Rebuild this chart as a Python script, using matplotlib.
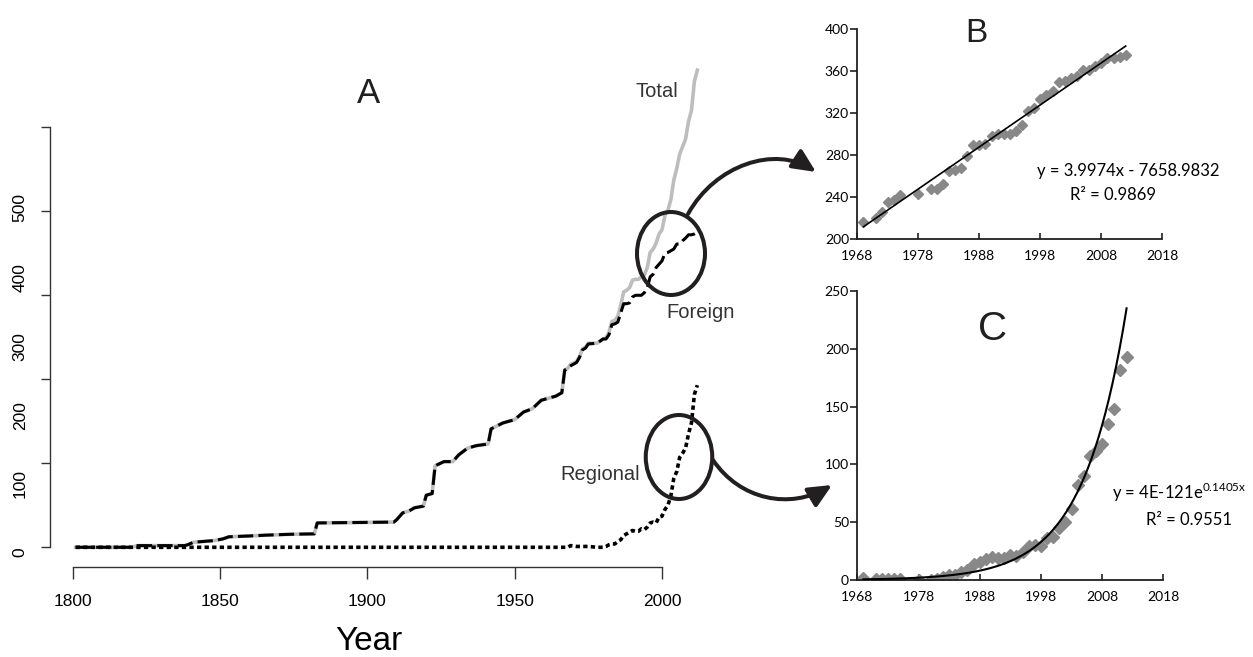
import numpy as np
import matplotlib
matplotlib.use("Agg")
import matplotlib.pyplot as plt
from matplotlib.patches import Ellipse, FancyArrowPatch
from matplotlib.path import Path

plt.rcParams['font.family'] = ['Liberation Sans', 'DejaVu Sans']
plt.rcParams['mathtext.fontset'] = 'custom'
plt.rcParams['mathtext.rm'] = 'Lato'

# ---------------- data ----------------
# Panel A: foreign (cumulative) before 1969, read as knots
a_foreign_early_years = [1801, 1820, 1822, 1838, 1839, 1841, 1848, 1851, 1853, 1860, 1866, 1874,
                         1882, 1883, 1909, 1910, 1912, 1914, 1916, 1919, 1920, 1922, 1923, 1926,
                         1929, 1931, 1934, 1937, 1941, 1942, 1946, 1950, 1953, 1956, 1959, 1964,
                         1966, 1967, 1968]
a_foreign_early_vals = [0, 0, 2, 2, 3, 6, 8, 10, 12.5, 13.5, 14.5, 15.5,
                        16, 29, 30, 33, 41, 43, 47, 49, 62, 64, 97, 102,
                        102, 110, 118, 121, 123, 141, 148, 152, 161, 165, 175, 180,
                        184, 211, 213]
a_regional_early_years = [1801, 1968]
a_regional_early_vals = [0, 0]

# Panels B and C: yearly values since 1969
bc_years = [1969, 1971, 1972, 1973, 1974, 1975, 1978, 1980, 1981, 1982, 1983, 1984, 1985,
            1986, 1987, 1988, 1989, 1990, 1991, 1992, 1993, 1994, 1995, 1996, 1997, 1998,
            1999, 2000, 2001, 2002, 2003, 2004, 2005, 2006, 2007, 2008, 2009, 2010, 2011, 2012]
b_foreign = [216, 220, 226, 235, 237, 242, 243, 248, 248, 253, 265, 266, 268,
             279, 290, 290, 291, 298, 300, 300, 300, 303, 309, 322, 325, 333,
             337, 341, 350, 351, 353, 355, 361, 361, 365, 368, 372, 372, 373, 375]
c_regional = [2, 1, 1, 1, 1, 1, 0, 0, 1, 3, 4, 4, 7,
              9, 14, 16, 18, 20, 19, 19, 22, 21, 24, 29, 30, 29,
              36, 37, 45, 50, 61, 82, 90, 107, 112, 118, 135, 148, 182, 193]

# fitted trend lines printed on the chart
b_slope, b_intercept = 3.9974, -7658.9832
c_coef, c_rate = 4e-121, 0.1405

a_xticks = [1800, 1850, 1900, 1950, 2000]
a_yticks = [0, 100, 200, 300, 400, 500]
a_ylabel_pos = [-5.6, 76.5, 156.3, 238.8, 320.6, 404]
bc_xticks = [1968, 1978, 1988, 1998, 2008, 2018]
b_yticks = [200, 240, 280, 320, 360, 400]
c_yticks = [0, 50, 100, 150, 200, 250]

W, H = 1253, 657
fig = plt.figure(figsize=(W / 100, H / 100), dpi=100)

def frac(l, r, t, b):
    return [l / W, (H - b) / H, (r - l) / W, (b - t) / H]

dark = '#231F20'

# ---------------- panel A ----------------
axA = fig.add_axes(frac(50, 700, 60, 566.7))
fa_years = np.array(a_foreign_early_years + bc_years)
fa_vals = np.array(a_foreign_early_vals + b_foreign, dtype=float)
ra_years = np.array(a_regional_early_years + bc_years)
ra_vals = np.array(a_regional_early_vals + c_regional, dtype=float)
tot_vals = np.concatenate([np.array(a_foreign_early_vals, dtype=float),
                           np.array(b_foreign, dtype=float) + np.array(c_regional, dtype=float)])

axA.plot(fa_years, tot_vals, color='#BDBDBD', lw=2.6, solid_joinstyle='round', zorder=2)
axA.plot(fa_years, fa_vals, color='black', lw=2.2, linestyle=(0, (5.0, 1.7)), zorder=3)
axA.plot(ra_years, ra_vals, color='black', lw=2.6, linestyle=(0, (1.2, 0.9)), zorder=3)

axA.set_xlim(1792.3, 2012.9)
axA.set_ylim(-23.1, 580.1)
for s in ['top', 'right']:
    axA.spines[s].set_visible(False)
axA.spines['left'].set_bounds(0, 500)
axA.spines['bottom'].set_bounds(1800, 2000)
for s in ['left', 'bottom']:
    axA.spines[s].set_color('#333333')
    axA.spines[s].set_linewidth(1.0)
axA.set_xticks(a_xticks)
axA.set_xticklabels([str(v) for v in a_xticks])
axA.tick_params(axis='x', length=8.9, width=1.0, color='#333333', pad=11, labelsize=12.5)
axA.set_yticks(a_yticks)
axA.set_yticklabels([])
axA.tick_params(axis='y', which='major', length=6.7, width=1.0, color='#333333')
axA.set_yticks(a_ylabel_pos, labels=[str(v) for v in a_yticks], minor=True)
axA.tick_params(axis='y', which='minor', length=0, pad=16, labelsize=12.5, labelrotation=90)
for lab in axA.get_yticklabels(minor=True):
    lab.set_verticalalignment('center')
axA.patch.set_alpha(0)

# ---------------- panel B ----------------
lato = ['Lato', 'DejaVu Sans']
axB = fig.add_axes(frac(857.3, 1162.3, 29, 239.3))
axB.plot(bc_years, b_foreign, linestyle='none', marker='D', ms=5.2, color='#888888', zorder=2)
bx = np.array([1969, 2012])
axB.plot(bx, b_slope * bx + b_intercept, color='black', lw=1.2, zorder=3)
axB.set_xlim(1968, 2018)
axB.set_ylim(200, 400)
axB.set_xticks(bc_xticks)
axB.set_yticks(b_yticks)

# ---------------- panel C ----------------
axC = fig.add_axes(frac(857.3, 1163.3, 291, 580))
axC.plot(bc_years, c_regional, linestyle='none', marker='D', ms=5.8, color='#888888', zorder=2)
cx = np.linspace(1969, 2012, 300)
axC.plot(cx, c_coef * np.exp(c_rate * cx), color='black', lw=1.5, zorder=3)
axC.set_xlim(1968, 2018)
axC.set_ylim(0, 250)
axC.set_xticks(bc_xticks)
axC.set_yticks(c_yticks)

for ax in (axB, axC):
    for s in ['top', 'right']:
        ax.spines[s].set_visible(False)
    for s in ['left', 'bottom']:
        ax.spines[s].set_color(dark)
        ax.spines[s].set_linewidth(1.3)
    ax.set_xticklabels([str(v) for v in bc_xticks], family=lato)
    ax.set_yticklabels([str(v) for v in ax.get_yticks().astype(int)], family=lato)
    ax.tick_params(axis='y', direction='out', length=5, width=1.2, color=dark, pad=1, labelsize=10)
    ax.tick_params(axis='x', direction='in', length=4, width=1.2, color=dark, pad=8, labelsize=10)
    ax.patch.set_alpha(0)

# ---------------- annotations (pixel overlay) ----------------
ov = fig.add_axes([0, 0, 1, 1], zorder=10)
ov.set_xlim(0, W)
ov.set_ylim(H, 0)
ov.axis('off')
ov.patch.set_alpha(0)

ov.text(368.7, 103, 'A', fontsize=25, ha='center', va='baseline', color=dark)
ov.text(369, 650, 'Year', fontsize=24, ha='center', va='baseline', color='black')
ov.text(635, 96.7, 'Total', fontsize=14.5, ha='left', va='baseline', color='#333333')
ov.text(666.7, 312.7, 'Foreign', fontsize=14.5, ha='left', va='center', color='#333333')
ov.text(560, 475, 'Regional', fontsize=14.5, ha='left', va='center', color='#333333')
ov.text(976, 42.3, 'B', fontsize=24, ha='center', va='baseline', color=dark)
ov.text(992.5, 339.5, 'C', fontsize=29, ha='center', va='baseline', color=dark)

ov.text(1037, 170.7, 'y = 3.9974x - 7658.9832', fontsize=12, family=lato, ha='left', va='center', color='black')
ov.text(1112.7, 195, 'R² = 0.9869', fontsize=12, family=lato, ha='center', va='center', color='black')
ov.text(1111.7, 499, r'y = 4E-121e$^{\mathregular{0.1405x}}$', fontsize=12, family=lato, ha='left', va='baseline', color='black')
ov.text(1146, 520, 'R² = 0.9551', fontsize=12, family=lato, ha='left', va='center', color='black')

ov.add_patch(Ellipse((671, 253.5), 68, 83, fill=False, lw=2.9, ec=dark))
ov.add_patch(Ellipse((679, 457), 66.5, 84, fill=False, lw=2.9, ec=dark))

up = Path([(688, 214), (715, 165), (775, 145), (816, 172)],
          [Path.MOVETO, Path.CURVE4, Path.CURVE4, Path.CURVE4])
ov.add_patch(FancyArrowPatch(path=up, arrowstyle='-|>,head_length=14,head_width=6.5',
                             mutation_scale=1, lw=2.9, color=dark))
low = Path([(713, 460), (740, 500), (790, 510), (832, 485)],
           [Path.MOVETO, Path.CURVE4, Path.CURVE4, Path.CURVE4])
ov.add_patch(FancyArrowPatch(path=low, arrowstyle='-|>,head_length=14,head_width=6.5',
                             mutation_scale=1, lw=2.9, color=dark))

fig.savefig('out.png', dpi=100)
